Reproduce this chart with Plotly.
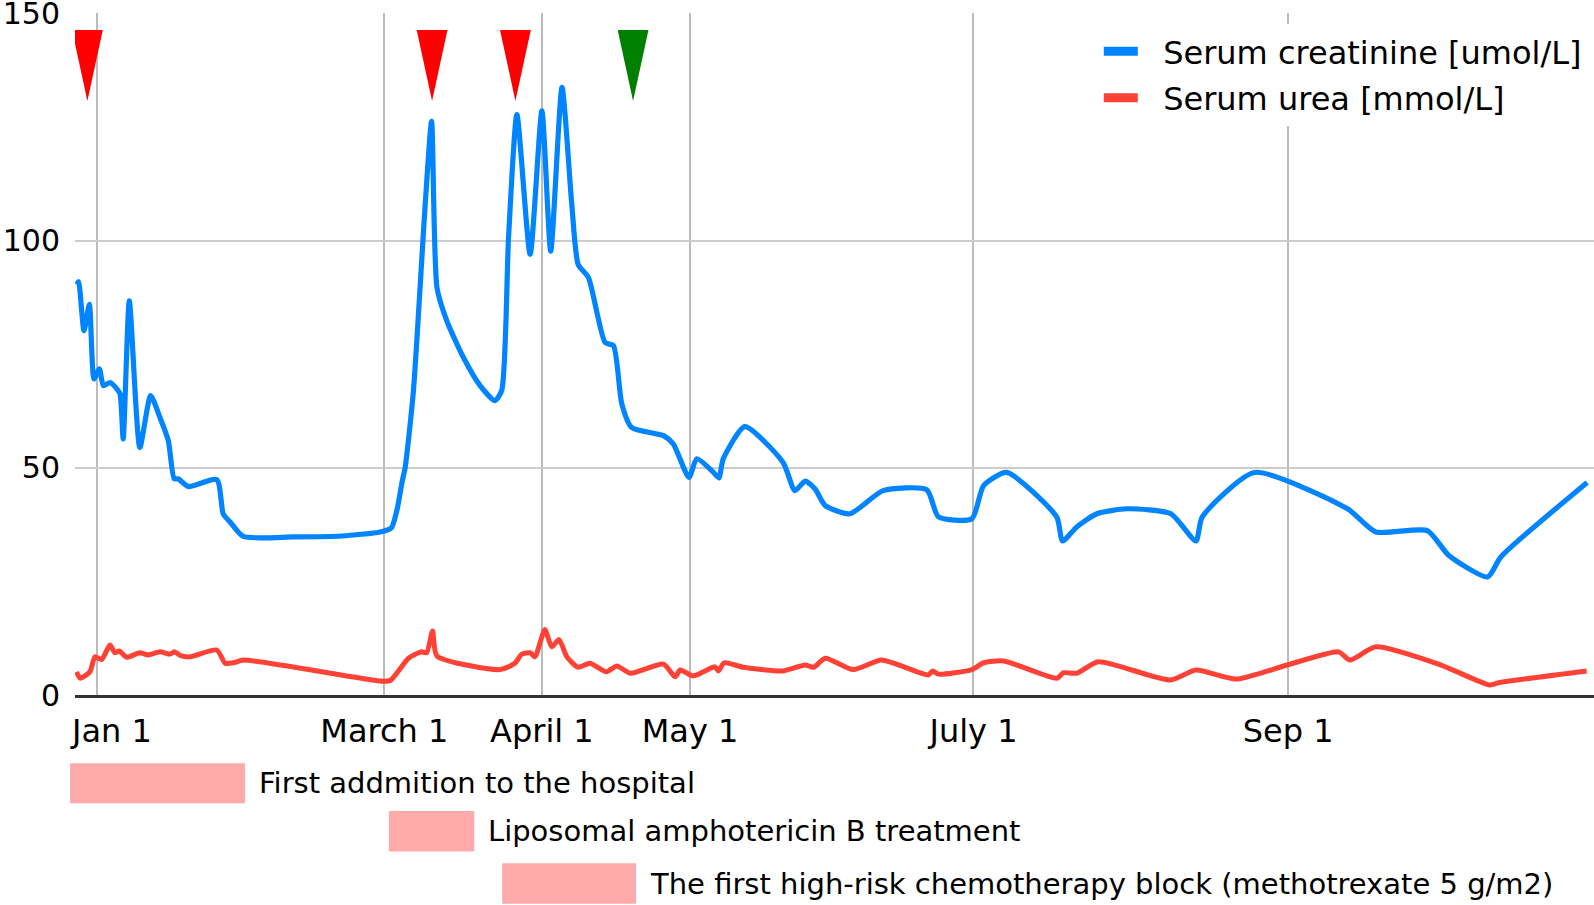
import plotly.graph_objects as go

# ---- data (x in days from Jan 1) ----
creat_day = [-4.1, -3.7, -2.6, -1.5, -0.55, 0.54, 1.35, 2.7, 4.1, 4.75, 5.4, 6.65, 8.8, 11.0, 12.9,
             14.6, 15.8, 16.6, 18.7, 24.5, 25.8, 27.2, 29.9, 40.1, 50.0, 57.8, 60.1, 61.3, 62.3, 62.9,
             64.6, 67.0, 68.3, 69.4, 71.4, 74.8, 78.2, 81.2, 82.6, 84.0, 85.7, 88.4, 90.8, 92.6,
             94.9, 96.9, 98.2, 100.3, 103.7, 105.4, 107.1, 109.1, 115.6, 117.6, 120.8, 122.4,
             125.8, 126.9, 127.8, 132.2, 140.0, 142.4, 144.5, 146.5, 148.6, 153.6, 160.4, 169.3,
             171.7, 178.5, 180.9, 185.6, 195.8, 197.0, 199.9, 204.0, 210.1, 219.1, 224.2, 225.5,
             236.1, 255.1, 260.9, 271.4, 275.8, 283.7, 286.4, 304.0]
creat_val = [90.4, 91.0, 80.2, 86.0, 69.6, 71.8, 68.1, 68.8, 67.4, 66.3, 56.4, 86.8, 54.5, 65.9, 61.1,
             56.0, 47.6, 47.6, 45.9, 47.4, 39.9, 38.1, 34.9, 34.8, 35.0, 35.9, 36.8, 41.0, 47.0, 50.0,
             67.0, 108.0, 126.3, 89.7, 82.4, 74.3, 68.1, 64.8, 67.0, 100.7, 127.8, 97.0, 128.6, 97.7,
             133.8, 108.0, 94.8, 91.9, 77.6, 76.9, 64.1, 58.9, 57.1, 55.3, 47.9, 52.0,
             49.0, 47.8, 52.0, 59.1, 51.2, 45.0, 47.1, 45.4, 41.7, 39.9, 45.0, 45.2,
             39.2, 38.8, 46.1, 49.0, 39.2, 33.9, 37.0, 39.9, 41.0, 39.9, 33.9, 39.2,
             49.0, 41.0, 35.9, 36.2, 30.7, 26.0, 30.4, 46.8]

urea_day = [-4.1, -3.4, -1.4, -0.35, 1.0, 2.7, 3.7, 4.6, 6.1, 8.8, 10.5, 12.9, 15.0, 15.8, 17.3, 19.0,
            24.5, 26.2, 27.9, 29.9, 58.5, 60.0, 63.6, 66.3, 67.3, 68.5, 69.4, 82.3, 85.3, 86.7, 88.4,
            89.4, 91.4, 92.8, 94.3, 95.9, 98.2, 100.6, 103.9, 106.1, 108.8, 115.6, 118.0, 119.0,
            121.7, 126.1, 126.8, 128.0, 131.9, 140.0, 144.5, 146.2, 148.6, 154.3, 160.1, 169.6,
            170.5, 171.7, 178.5, 180.9, 185.0, 195.8, 197.2, 199.9, 204.3, 219.0, 224.2, 232.4,
            242.8, 253.3, 255.6, 260.9, 274.2, 284.1, 285.9, 303.9]
urea_val = [5.1, 3.7, 5.1, 8.4, 7.8, 11.0, 9.3, 9.7, 8.3, 9.3, 8.8, 9.5, 9.0, 9.5, 8.6, 8.4,
            9.9, 7.0, 7.1, 7.7, 3.0, 3.3, 8.1, 9.5, 9.3, 14.1, 8.6, 5.6, 7.0, 9.0, 9.3,
            8.4, 14.4, 10.6, 12.2, 8.4, 6.1, 7.0, 5.1, 6.4, 4.8, 6.8, 4.0, 5.5,
            4.2, 6.2, 5.3, 7.1, 6.1, 5.3, 6.6, 6.1, 8.1, 5.6, 7.7, 4.4,
            5.3, 4.6, 5.6, 7.1, 7.5, 3.7, 4.9, 4.8, 7.3, 3.3, 5.5, 3.5,
            6.6, 9.5, 7.7, 10.6, 6.6, 2.2, 2.7, 5.3]

tick_days = [0, 58.67, 90.8, 121.03, 178.83, 243.0]
tick_labels = ["\u00a0\u00a0\u00a0Jan 1", "March 1", "April 1", "May 1", "July 1", "Sep 1"]

marker_days = [-1.9, 68.4, 85.4, 109.4]
marker_colors = ["#ff0000", "#ff0000", "#ff0000", "#008000"]

period_labels = ["First addmition to the hospital",
                 "Liposomal amphotericin B treatment",
                 "The first high-risk chemotherapy block (methotrexate 5 g/m2)"]
period_start = [-5.45, 59.6, 82.7]
period_end = [30.25, 77.0, 110.0]

BLUE = "#0084ff"
RED = "#ff4136"
FONT = "DejaVu Sans"
NB = "\u00a0\u00a0"
X_RANGE = [-4.43, 305.4]


def to_paper(d):
    return (d - X_RANGE[0]) / (X_RANGE[1] - X_RANGE[0])


fig = go.Figure()

fig.add_trace(go.Scatter(x=creat_day, y=creat_val, mode="lines", showlegend=False,
                         line=dict(color=BLUE, width=5.2, shape="spline", smoothing=0.6)))
fig.add_trace(go.Scatter(x=urea_day, y=urea_val, mode="lines", showlegend=False,
                         line=dict(color=RED, width=5, shape="spline", smoothing=0.6)))

# legend entries (thick symbols)
fig.add_trace(go.Scatter(x=[None], y=[None], mode="lines", name=NB + "Serum creatinine [umol/L]",
                         legendgroup="a", line=dict(color=BLUE, width=9)))
fig.add_trace(go.Scatter(x=[None], y=[None], mode="lines", name=NB + "Serum urea [mmol/L]",
                         legendgroup="b", line=dict(color=RED, width=9)))

# event triangles
tri_top, tri_tip, half_w = 146.4, 130.8, 3.14
for d, c in zip(marker_days, marker_colors):
    fig.add_trace(go.Scatter(x=[d - half_w, d + half_w, d, d - half_w],
                             y=[tri_top, tri_top, tri_tip, tri_top],
                             mode="lines", fill="toself", fillcolor=c,
                             line=dict(width=0, color=c), showlegend=False, hoverinfo="skip"))

# period bars below the axis
rows = [(-0.1001, -0.1587), (-0.1700, -0.2296), (-0.2466, -0.3062)]
for (y0, y1), s, e, lab in zip(rows, period_start, period_end, period_labels):
    fig.add_shape(type="rect", xref="paper", yref="paper", x0=to_paper(s), x1=to_paper(e),
                  y0=y1, y1=y0, fillcolor="#ffaaaa", line=dict(width=0))
    fig.add_annotation(xref="x", yref="paper", x=e, y=(y0 + y1) / 2, xanchor="left",
                       yanchor="middle", xshift=12, text=lab, showarrow=False,
                       font=dict(family=FONT, size=29, color="black"))

fig.update_layout(
    width=1594, height=905,
    margin=dict(l=75, r=0, t=13, b=210),
    plot_bgcolor="white", paper_bgcolor="white",
    font=dict(family=FONT, size=32, color="black"),
    showlegend=True,
    legend=dict(x=0.674, xanchor="left", y=0.984, yanchor="top", bgcolor="white",
                font=dict(family=FONT, size=32, color="black"),
                traceorder="grouped", tracegroupgap=2, itemwidth=34),
    xaxis=dict(range=X_RANGE, tickmode="array", tickvals=tick_days, ticktext=tick_labels,
               showgrid=True, gridcolor="#bbbbbb", gridwidth=2, zeroline=False,
               showline=True, linecolor="#333333", linewidth=2.5, automargin=False,
               ticks="outside", ticklen=6, tickcolor="rgba(0,0,0,0)",
               tickfont=dict(family=FONT, size=32, color="black")),
    yaxis=dict(range=[0, 150.15], tickvals=[0, 50, 100, 150], showgrid=True, gridcolor="#cccccc",
               gridwidth=2, zeroline=False, showline=False, ticklabeloverflow="allow",
               automargin=False,
               ticks="outside", ticklen=8, tickcolor="rgba(0,0,0,0)",
               tickfont=dict(family=FONT, size=30, color="black")),
)

fig.write_html("out.html", config={"displayModeBar": False},
               post_script="document.body.style.margin='0';")
